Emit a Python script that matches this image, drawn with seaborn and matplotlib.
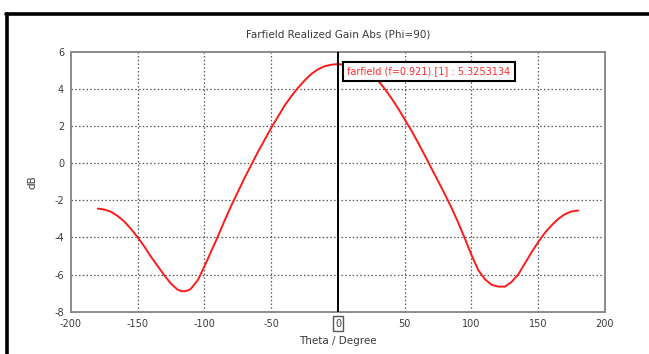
import matplotlib
matplotlib.use("Agg")
import matplotlib.pyplot as plt
import seaborn as sns
import pandas as pd
from matplotlib.lines import Line2D

theta = [-180, -175, -170, -165, -160, -155, -150, -145, -140, -135, -130, -125, -120, -117,
         -115, -112, -110, -105, -100, -95, -90, -85, -80, -75, -70, -65, -60, -55, -50, -45,
         -40, -35, -30, -25, -20, -15, -10, -5, 0, 5, 10, 15, 20, 25, 30, 35, 40, 45, 50, 55,
         60, 65, 70, 75, 80, 85, 90, 95, 100, 105, 110, 115, 120, 125, 130, 135, 140, 145, 150,
         155, 160, 165, 170, 175, 180]
gain = [-2.45, -2.5, -2.62, -2.85, -3.15, -3.55, -4.0, -4.5, -5.05, -5.55, -6.05, -6.5, -6.82, -6.9,
        -6.9, -6.85, -6.75, -6.3, -5.55, -4.75, -3.95, -3.1, -2.3, -1.55, -0.8, -0.1, 0.6, 1.25, 1.9, 2.5,
        3.1, 3.6, 4.05, 4.45, 4.8, 5.05, 5.22, 5.3, 5.33, 5.3, 5.22, 5.08, 4.93, 4.72, 4.45, 4.0, 3.5, 2.95, 2.35, 1.75,
        1.1, 0.42, -0.28, -0.97, -1.67, -2.4, -3.2, -4.05, -4.95, -5.75, -6.25, -6.55, -6.65, -6.65, -6.4, -6.0, -5.4, -4.8, -4.25,
        -3.75, -3.35, -3.0, -2.75, -2.6, -2.55]
xticks = [-200, -150, -100, -50, 0, 50, 100, 150, 200]
yticks = [-8, -6, -4, -2, 0, 2, 4, 6]
title = "Farfield Realized Gain Abs (Phi=90)"
marker_label = "farfield (f=0.921) [1] : 5.3253134"

df = pd.DataFrame({"theta": theta, "gain": gain})

sns.set_style("white")
plt.rcParams["font.family"] = ["DejaVu Sans"]
plt.rcParams["axes.unicode_minus"] = False

fig = plt.figure(figsize=(6.49, 3.54), dpi=100)
ax = fig.add_axes([0.1094, 0.1195, 0.8228, 0.7345])

sns.lineplot(data=df, x="theta", y="gain", color="#ff1a1a", linewidth=1.4, ax=ax)

ax.set_xlim(-200, 200)
ax.set_ylim(-8, 6)
ax.set_xticks(xticks)
ax.set_yticks(yticks)

tc = "#3a3a3a"
ax.tick_params(axis="both", direction="out", length=3, width=1, color="#808080",
               labelsize=7, labelcolor=tc, pad=2)
for s in ax.spines.values():
    s.set_color("#8a8a8a")
    s.set_linewidth(1.4)

# dotted grid lines (interior only)
for xv in xticks[1:-1]:
    if xv != 0:
        ax.axvline(xv, color="#555555", linestyle=(0, (1.2, 1.8)), linewidth=0.9, zorder=0)
for yv in yticks[1:-1]:
    ax.axhline(yv, color="#555555", linestyle=(0, (1.2, 1.8)), linewidth=0.9, zorder=0)

ax.axvline(0, color="black", linewidth=1.4, zorder=3)

ax.set_xlabel("Theta / Degree", fontsize=7.5, color=tc, labelpad=5)
ax.set_ylabel("dB", fontsize=7.5, color=tc, labelpad=12)
ax.set_title(title, fontsize=7.5, color=tc, pad=10)

# boxed "0" tick label
for lbl in ax.get_xticklabels():
    if lbl.get_text() in ("0", "−0"):
        lbl.set_bbox(dict(boxstyle="square,pad=0.25", facecolor="white",
                          edgecolor="#555555", linewidth=1.0))

ax.text(7, 4.95, marker_label, color="#ff2a2a", fontsize=7, va="center", ha="left",
        zorder=5,
        bbox=dict(boxstyle="square,pad=0.45", facecolor="white", edgecolor="black",
                  linewidth=1.5))

# outer frame lines (top and left)
fig.add_artist(Line2D([0.0095, 1.0], [0.961, 0.961], color="black", linewidth=2.6,
                      transform=fig.transFigure))
fig.add_artist(Line2D([0.0105, 0.0105], [0.0, 0.961], color="black", linewidth=2.6,
                      transform=fig.transFigure))

fig.savefig("out.png", dpi=100)
